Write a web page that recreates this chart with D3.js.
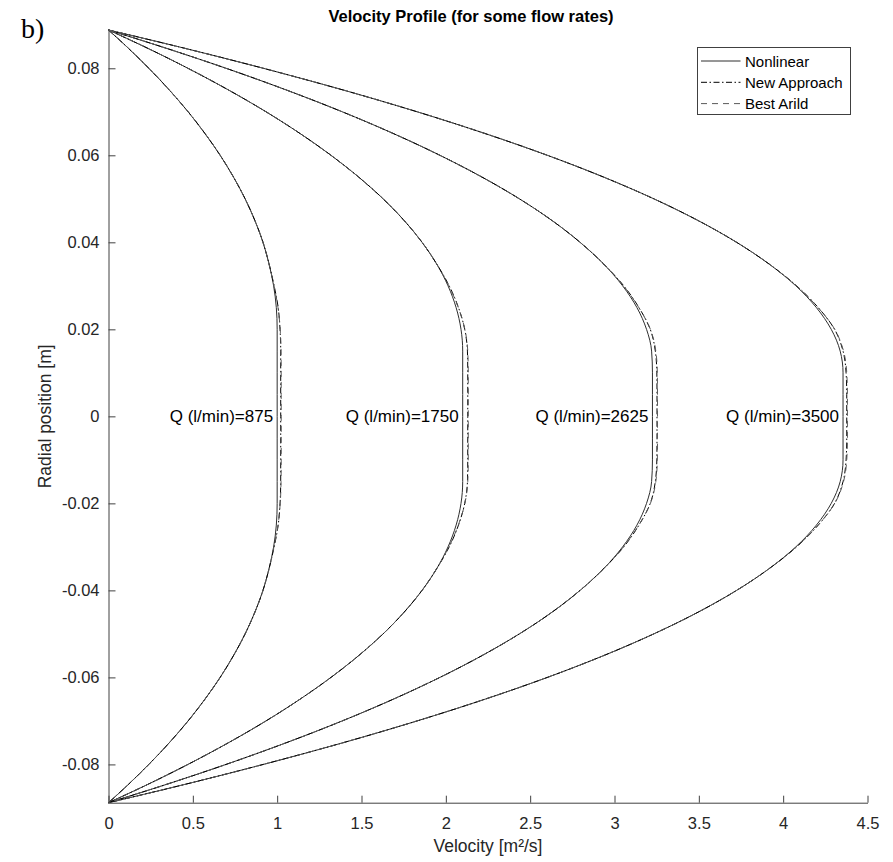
<!DOCTYPE html>
<html>
<head>
<meta charset="utf-8">
<script src="https://cdn.jsdelivr.net/npm/d3@7"></script>
<style>
  html, body { margin: 0; padding: 0; background: #fff; }
  svg { display: block; font-family: "Liberation Sans", Arial, Helvetica, sans-serif; }
</style>
</head>
<body>
<svg id="chart" width="893" height="862"></svg>
<script>
// Radial positions across the pipe (m), wall to wall
const radialPos = [0.0888,0.085,0.08,0.075,0.07,0.065,0.06,0.055,0.05,0.045,0.04,0.035,0.03,0.025,0.02,0.015,0.01,0.005,0,
  -0.005,-0.01,-0.015,-0.02,-0.025,-0.03,-0.035,-0.04,-0.045,-0.05,-0.055,-0.06,-0.065,-0.07,-0.075,-0.08,-0.085,-0.0888];

const flowRates = [875, 1750, 2625, 3500];

// Nonlinear model velocities (m/s) at radialPos
const nonlinear875  = [0,0.107,0.239,0.361,0.472,0.572,0.662,0.741,0.810,0.868,0.916,0.952,0.979,0.995,1.000,1.000,1.000,1.000,1.000,
  1.000,1.000,1.000,1.000,0.995,0.979,0.952,0.916,0.868,0.810,0.741,0.662,0.572,0.472,0.361,0.239,0.107,0];
const nonlinear1750 = [0,0.211,0.471,0.712,0.934,1.136,1.319,1.483,1.628,1.753,1.859,1.946,2.013,2.061,2.090,2.100,2.100,2.100,2.100,
  2.100,2.100,2.100,2.090,2.061,2.013,1.946,1.859,1.753,1.628,1.483,1.319,1.136,0.934,0.712,0.471,0.211,0];
const nonlinear2625 = [0,0.311,0.697,1.055,1.386,1.689,1.965,2.214,2.436,2.630,2.796,2.936,3.048,3.133,3.190,3.220,3.225,3.225,3.225,
  3.225,3.225,3.220,3.190,3.133,3.048,2.936,2.796,2.630,2.436,2.214,1.965,1.689,1.386,1.055,0.697,0.311,0];
const nonlinear3500 = [0,0.410,0.918,1.392,1.830,2.233,2.602,2.935,3.233,3.496,3.724,3.917,4.075,4.197,4.285,4.338,4.355,4.355,4.355,
  4.355,4.355,4.338,4.285,4.197,4.075,3.917,3.724,3.496,3.233,2.935,2.602,2.233,1.830,1.392,0.918,0.410,0];

// New approach velocities
const newApproach875  = [0,0.107,0.239,0.361,0.472,0.572,0.662,0.741,0.810,0.868,0.916,0.952,0.982,1.006,1.017,1.021,1.021,1.021,1.021,
  1.021,1.021,1.021,1.017,1.006,0.982,0.952,0.916,0.868,0.810,0.741,0.662,0.572,0.472,0.361,0.239,0.107,0];
const newApproach1750 = [0,0.211,0.471,0.712,0.934,1.136,1.319,1.483,1.628,1.753,1.859,1.946,2.020,2.075,2.112,2.128,2.130,2.130,2.130,
  2.130,2.130,2.128,2.112,2.075,2.020,1.946,1.859,1.753,1.628,1.483,1.319,1.136,0.934,0.712,0.471,0.211,0];
const newApproach2625 = [0,0.311,0.697,1.055,1.386,1.689,1.965,2.214,2.436,2.630,2.796,2.936,3.055,3.145,3.212,3.242,3.251,3.252,3.252,
  3.252,3.251,3.242,3.212,3.145,3.055,2.936,2.796,2.630,2.436,2.214,1.965,1.689,1.386,1.055,0.697,0.311,0];
const newApproach3500 = [0,0.410,0.918,1.392,1.830,2.233,2.602,2.935,3.233,3.496,3.724,3.917,4.080,4.208,4.305,4.355,4.373,4.377,4.377,
  4.377,4.373,4.355,4.305,4.208,4.080,3.917,3.724,3.496,3.233,2.935,2.602,2.233,1.830,1.392,0.918,0.410,0];

// Best Arild velocities
const bestArild875  = [0,0.107,0.239,0.361,0.472,0.572,0.662,0.741,0.810,0.868,0.916,0.952,0.981,1.005,1.018,1.023,1.024,1.024,1.024,
  1.024,1.024,1.023,1.018,1.005,0.981,0.952,0.916,0.868,0.810,0.741,0.662,0.572,0.472,0.361,0.239,0.107,0];
const bestArild1750 = [0,0.211,0.471,0.712,0.934,1.136,1.319,1.483,1.628,1.753,1.859,1.946,2.018,2.074,2.113,2.130,2.133,2.133,2.133,
  2.133,2.133,2.130,2.113,2.074,2.018,1.946,1.859,1.753,1.628,1.483,1.319,1.136,0.934,0.712,0.471,0.211,0];
const bestArild2625 = [0,0.311,0.697,1.055,1.386,1.689,1.965,2.214,2.436,2.630,2.796,2.936,3.053,3.144,3.213,3.245,3.254,3.255,3.255,
  3.255,3.254,3.245,3.213,3.144,3.053,2.936,2.796,2.630,2.436,2.214,1.965,1.689,1.386,1.055,0.697,0.311,0];
const bestArild3500 = [0,0.410,0.918,1.392,1.830,2.233,2.602,2.935,3.233,3.496,3.724,3.917,4.078,4.207,4.306,4.358,4.377,4.381,4.381,
  4.381,4.377,4.358,4.306,4.207,4.078,3.917,3.724,3.496,3.233,2.935,2.602,2.233,1.830,1.392,0.918,0.410,0];

// Plug (centre-line) velocity for each flow rate, where its label sits
const plugVelocity = [1.000, 2.100, 3.225, 4.355];

const xTicks = [0, 0.5, 1, 1.5, 2, 2.5, 3, 3.5, 4, 4.5];
const xTickLabels = ["0", "0.5", "1", "1.5", "2", "2.5", "3", "3.5", "4", "4.5"];
const yTicks = [-0.08, -0.06, -0.04, -0.02, 0, 0.02, 0.04, 0.06, 0.08];
const yTickLabels = ["-0.08", "-0.06", "-0.04", "-0.02", "0", "0.02", "0.04", "0.06", "0.08"];

const seriesNames = ["Nonlinear", "New Approach", "Best Arild"];

const series = [
  { name: seriesNames[0], profiles: [nonlinear875, nonlinear1750, nonlinear2625, nonlinear3500], color: "#2e2e2e", dash: null },
  { name: seriesNames[1], profiles: [newApproach875, newApproach1750, newApproach2625, newApproach3500], color: "#000000", dash: "6,2.5,1.5,2.5" },
  { name: seriesNames[2], profiles: [bestArild875, bestArild1750, bestArild2625, bestArild3500], color: "#5a5a5a", dash: "6,5" }
];

const svg = d3.select("#chart");
const plot = { left: 108.5, right: 867.5, top: 30, bottom: 802.7 };

const x = d3.scaleLinear().domain([0, 4.5]).range([plot.left, plot.right]);
const y = d3.scaleLinear().domain([-0.0888, 0.0888]).range([plot.bottom, plot.top]);

const axisColor = "#404040";
const textColor = "#262626";

// Profiles
const line = d3.line()
  .x(d => x(d[0]))
  .y(d => y(d[1]))
  .curve(d3.curveMonotoneY);

const curves = svg.append("g").attr("fill", "none");
series.forEach(s => {
  s.profiles.forEach(vel => {
    const pts = vel.map((v, i) => [v, radialPos[i]]);
    curves.append("path")
      .attr("d", line(pts))
      .attr("stroke", s.color)
      .attr("stroke-width", 1)
      .attr("stroke-dasharray", s.dash);
  });
});

// Axes (ticks point inward, no box)
const xAxis = svg.append("g")
  .attr("transform", `translate(0,${plot.bottom})`)
  .call(d3.axisBottom(x).tickValues(xTicks).tickFormat((d, i) => xTickLabels[i]).tickSize(-7).tickSizeOuter(0).tickPadding(15));
const yAxis = svg.append("g")
  .attr("transform", `translate(${plot.left},0)`)
  .call(d3.axisLeft(y).tickValues(yTicks).tickFormat((d, i) => yTickLabels[i]).tickSize(-7).tickSizeOuter(0).tickPadding(9));

[xAxis, yAxis].forEach(g => {
  g.select(".domain").attr("stroke", axisColor).attr("stroke-width", 1);
  g.selectAll(".tick line").attr("stroke", axisColor).attr("stroke-width", 1);
  g.selectAll(".tick text").attr("fill", textColor).style("font-size", "16.5px");
});

// Flow-rate labels next to each plug
svg.append("g").selectAll("text")
  .data(flowRates)
  .join("text")
  .attr("x", (d, i) => x(plugVelocity[i]) - 4)
  .attr("y", y(0))
  .attr("text-anchor", "end")
  .attr("dominant-baseline", "central")
  .attr("fill", "#000")
  .style("font-size", "17px")
  .text(d => `Q (l/min)=${d}`);

// Title and axis labels
svg.append("text")
  .attr("x", 471).attr("y", 21.5)
  .attr("text-anchor", "middle")
  .attr("fill", "#000")
  .style("font-size", "16.5px").style("font-weight", "bold")
  .text("Velocity Profile (for some flow rates)");

svg.append("text")
  .attr("x", (plot.left + plot.right) / 2).attr("y", 852)
  .attr("text-anchor", "middle")
  .attr("fill", textColor)
  .style("font-size", "17.5px")
  .text("Velocity [m²/s]");

svg.append("text")
  .attr("transform", `translate(45,${y(0)}) rotate(-90)`)
  .attr("text-anchor", "middle")
  .attr("dominant-baseline", "central")
  .attr("fill", textColor)
  .style("font-size", "17.5px")
  .text("Radial position [m]");

// Panel tag
svg.append("text")
  .attr("x", 21).attr("y", 37.5)
  .attr("fill", "#000")
  .style("font-family", "'Liberation Serif', 'Times New Roman', serif")
  .style("font-size", "28px")
  .text("b)");

// Legend
const legend = svg.append("g").attr("transform", "translate(697.5,47.5)");
legend.append("rect")
  .attr("width", 153).attr("height", 67)
  .attr("fill", "#fff").attr("stroke", axisColor).attr("stroke-width", 1);
series.forEach((s, i) => {
  const cy = 13.5 + i * 21.3;
  legend.append("line")
    .attr("x1", 3.5).attr("x2", 43).attr("y1", cy).attr("y2", cy)
    .attr("stroke", s.color).attr("stroke-width", 1)
    .attr("stroke-dasharray", s.dash);
  legend.append("text")
    .attr("x", 47.5).attr("y", cy)
    .attr("dominant-baseline", "central")
    .attr("fill", "#000")
    .style("font-size", "15px")
    .text(s.name);
});
</script>
</body>
</html>
